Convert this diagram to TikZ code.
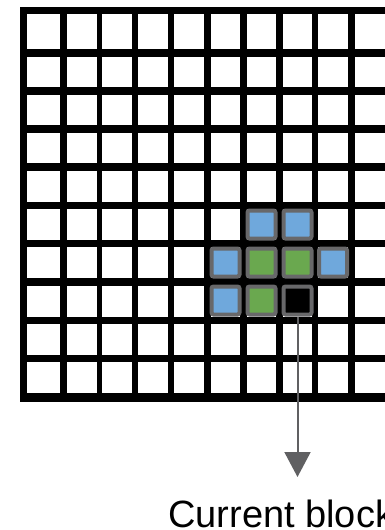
\documentclass[tikz,border=0pt]{standalone}
\usepackage{fontspec}
\setmainfont{Liberation Sans}
\usetikzlibrary{arrows.meta}
\definecolor{cellblue}{RGB}{111,168,220}
\definecolor{cellgreen}{RGB}{106,168,79}
\definecolor{framegray}{RGB}{104,104,106}
\definecolor{arrowgray}{RGB}{96,96,98}
\tikzset{
  hlcell/.style={rectangle, draw=framegray, line width=4pt, rounded corners=2pt,
    minimum width=28pt, minimum height=28pt, inner sep=0pt},
  bluecell/.style={hlcell, fill=cellblue},
  greencell/.style={hlcell, fill=cellgreen},
  curcell/.style={hlcell, fill=black},
  pointer/.style={draw=arrowgray, line width=2pt, -{Triangle[length=25pt,width=26pt,fill=arrowgray]}},
  caption/.style={anchor=base west, inner sep=0pt, font=\fontsize{38}{42}\selectfont}
}
\begin{document}
\begin{tikzpicture}[x=1pt,y=-1pt]
\useasboundingbox (0,0) rectangle (385,530);
\fill[black] (20,7) rectangle (385,402);
\foreach \xa/\xb in {27/60,67/97,102/132,138/168,174/204,211/240,247/276,283/312,318/348,355/385}{
  \foreach \ya/\yb in {14/49,57/87,95/125,133/163,171/202,209/240,247/278,286/317,324/355,362/393}{
    \fill[white] (\xa,\ya) rectangle (\xb,\yb);
  }
}
% highlighted blocks
\node[bluecell]  (b1) at (261.5,224.5) {};
\node[bluecell]  (b2) at (297.5,224.5) {};
\node[bluecell]  (b3) at (225.5,262.5) {};
\node[greencell] (g1) at (261.5,262.5) {};
\node[greencell] (g2) at (297.5,262.5) {};
\node[bluecell]  (b4) at (333,262.5) {};
\node[bluecell]  (b5) at (225.5,300.5) {};
\node[greencell] (g3) at (261.5,300.5) {};
\node[curcell]   (cur) at (297.5,300.5) {};
\coordinate (tip) at (297.5,477);
\draw[pointer] (cur.south) -- (tip);
\node[caption] (label) at (168,527) {Current block};
\end{tikzpicture}
\end{document}
